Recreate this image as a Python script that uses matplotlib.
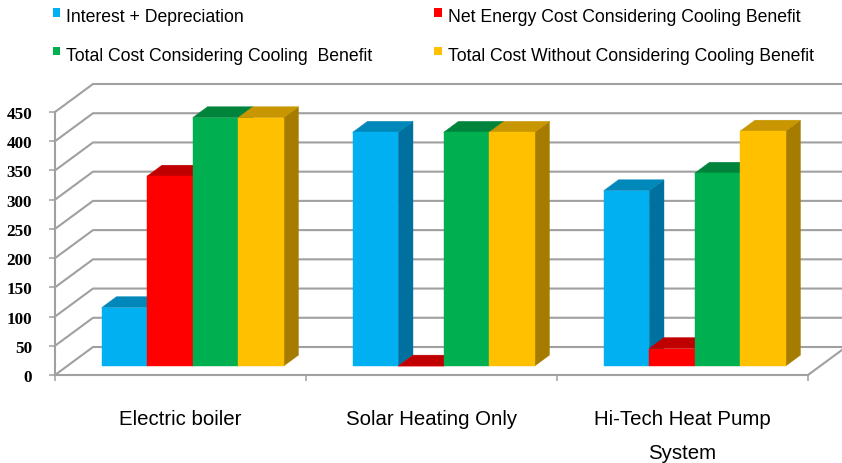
import matplotlib
matplotlib.use('Agg')
import matplotlib.pyplot as plt
from matplotlib.patches import Polygon, Rectangle
from matplotlib.transforms import IdentityTransform, offset_copy
import numpy as np

# ---- data ----
categories = ['Electric boiler', 'Solar Heating Only', 'Hi-Tech Heat Pump\nSystem']
series_names = ['Interest + Depreciation',
                'Net Energy Cost Considering Cooling Benefit',
                'Total Cost Considering Cooling  Benefit',
                'Total Cost Without Considering Cooling Benefit']
interest_depr = [100, 400, 300]
net_energy = [325, 0, 30]
total_cooling = [425, 400, 330]
total_without = [425, 400, 402]
y_ticks = [0, 50, 100, 150, 200, 250, 300, 350, 400, 450]

series = [interest_depr, net_energy, total_cooling, total_without]

# ---- styles ----
front_colors = ['#00B0F0', '#FF0000', '#00B050', '#FFC000']
top_colors = ['#0088BA', '#C00000', '#00843C', '#C89600']
side_colors = ['#00709E', '#A80000', '#00763A', '#A67C00']
grid_color = '#A0A0A0'
sans = ['Liberation Sans', 'DejaVu Sans']
serif = ['Liberation Serif', 'DejaVu Serif']

W, H = 842, 464
fig = plt.figure(figsize=(W / 100, H / 100), dpi=100)
fig.patch.set_facecolor('white')

# front plane of the 3D box
x0, x1 = 55, 808
y_zero, y_top = 376, 113
ax = fig.add_axes([x0 / W, (H - y_zero) / H, (x1 - x0) / W, (y_zero - y_top) / H])
ax.set_xlim(0, len(categories))
ax.set_ylim(0, 450)
ax.patch.set_alpha(0)

# depth (in display pixels) of the full box
DX, DY = 38, 28
bar_depth_front = 0.32
bar_depth_back = 0.71
group_width = 0.725
n_series = len(series)
bar_w = group_width / n_series

ident = IdentityTransform()


def proj(x, v, d):
    p = ax.transData.transform((x, v))
    return (p[0] + DX * d, p[1] + DY * d)


# walls: left wall + back wall gridlines
for v in y_ticks:
    a = proj(0, v, 0)
    b = proj(0, v, 1)
    c = proj(len(categories), v, 1)
    ax.add_line(plt.Line2D([a[0], b[0], c[0]], [a[1], b[1], c[1]], transform=ident,
                           color=grid_color, lw=1.5, clip_on=False, zorder=1))
# floor right edge
a = proj(len(categories), 0, 0)
b = proj(len(categories), 0, 1)
ax.add_line(plt.Line2D([a[0], b[0]], [a[1], b[1]], transform=ident,
                       color=grid_color, lw=1.5, clip_on=False, zorder=1))

# bars
z = 3
for ci in range(len(categories)):
    start = ci + 0.5 - group_width / 2
    for si in range(n_series):
        v = series[si][ci]
        xl = start + si * bar_w
        xr = xl + bar_w
        f, b_ = bar_depth_front, bar_depth_back
        side = [proj(xr, 0, f), proj(xr, v, f), proj(xr, v, b_), proj(xr, 0, b_)]
        top = [proj(xl, v, f), proj(xr, v, f), proj(xr, v, b_), proj(xl, v, b_)]
        front = [proj(xl, 0, f), proj(xr, 0, f), proj(xr, v, f), proj(xl, v, f)]
        for pts, col in ((side, side_colors[si]), (top, top_colors[si]), (front, front_colors[si])):
            ax.add_patch(Polygon(pts, closed=True, transform=ident, facecolor=col,
                                 edgecolor=col, lw=0.3, clip_on=False, zorder=z))
        z += 1

# axes spines / ticks
for s in ['top', 'right']:
    ax.spines[s].set_visible(False)
for s in ['left', 'bottom']:
    ax.spines[s].set_color(grid_color)
    ax.spines[s].set_linewidth(1.5)
    ax.spines[s].set_zorder(50)
ax.set_yticks(y_ticks)
ax.set_yticklabels([str(t) for t in y_ticks], fontfamily=serif, fontweight='bold',
                   fontsize=12.3, color='black')
ax.tick_params(axis='y', direction='out', length=4.5, width=1.1, color=grid_color, pad=12)
ax.set_xticks(range(len(categories) + 1))
ax.set_xticklabels([])
ax.tick_params(axis='x', direction='out', length=4.5, width=1.1, color=grid_color)

# category labels: each line placed below the front floor edge
xa = ax.get_xaxis_transform()
for ci, cat in enumerate(categories):
    for li, line in enumerate(cat.split('\n')):
        tr = offset_copy(xa, fig=fig, x=0, y=-(49 + 34 * li), units='dots')
        ax.text(ci + 0.5, 0, line, ha='center', va='baseline', fontsize=14.7,
                fontfamily=sans, color='black', transform=tr, clip_on=False)

# legend (manual two-column layout)
leg_cols = [52.5, 434]
leg_rows = [9, 47.5]
for i, name in enumerate(series_names):
    cx = leg_cols[i % 2]
    ry = leg_rows[i // 2]
    fig.add_artist(Rectangle((cx / W, 1 - (ry + 8.5) / H), 7.5 / W, 8.5 / H,
                             transform=fig.transFigure, facecolor=front_colors[i],
                             edgecolor='none'))
    fig.text((cx + 14) / W, 1 - (ry + 13.5) / H, name, ha='left', va='baseline',
             fontsize=12.7, fontfamily=sans, color='black')

fig.savefig('out.png', dpi=100)
